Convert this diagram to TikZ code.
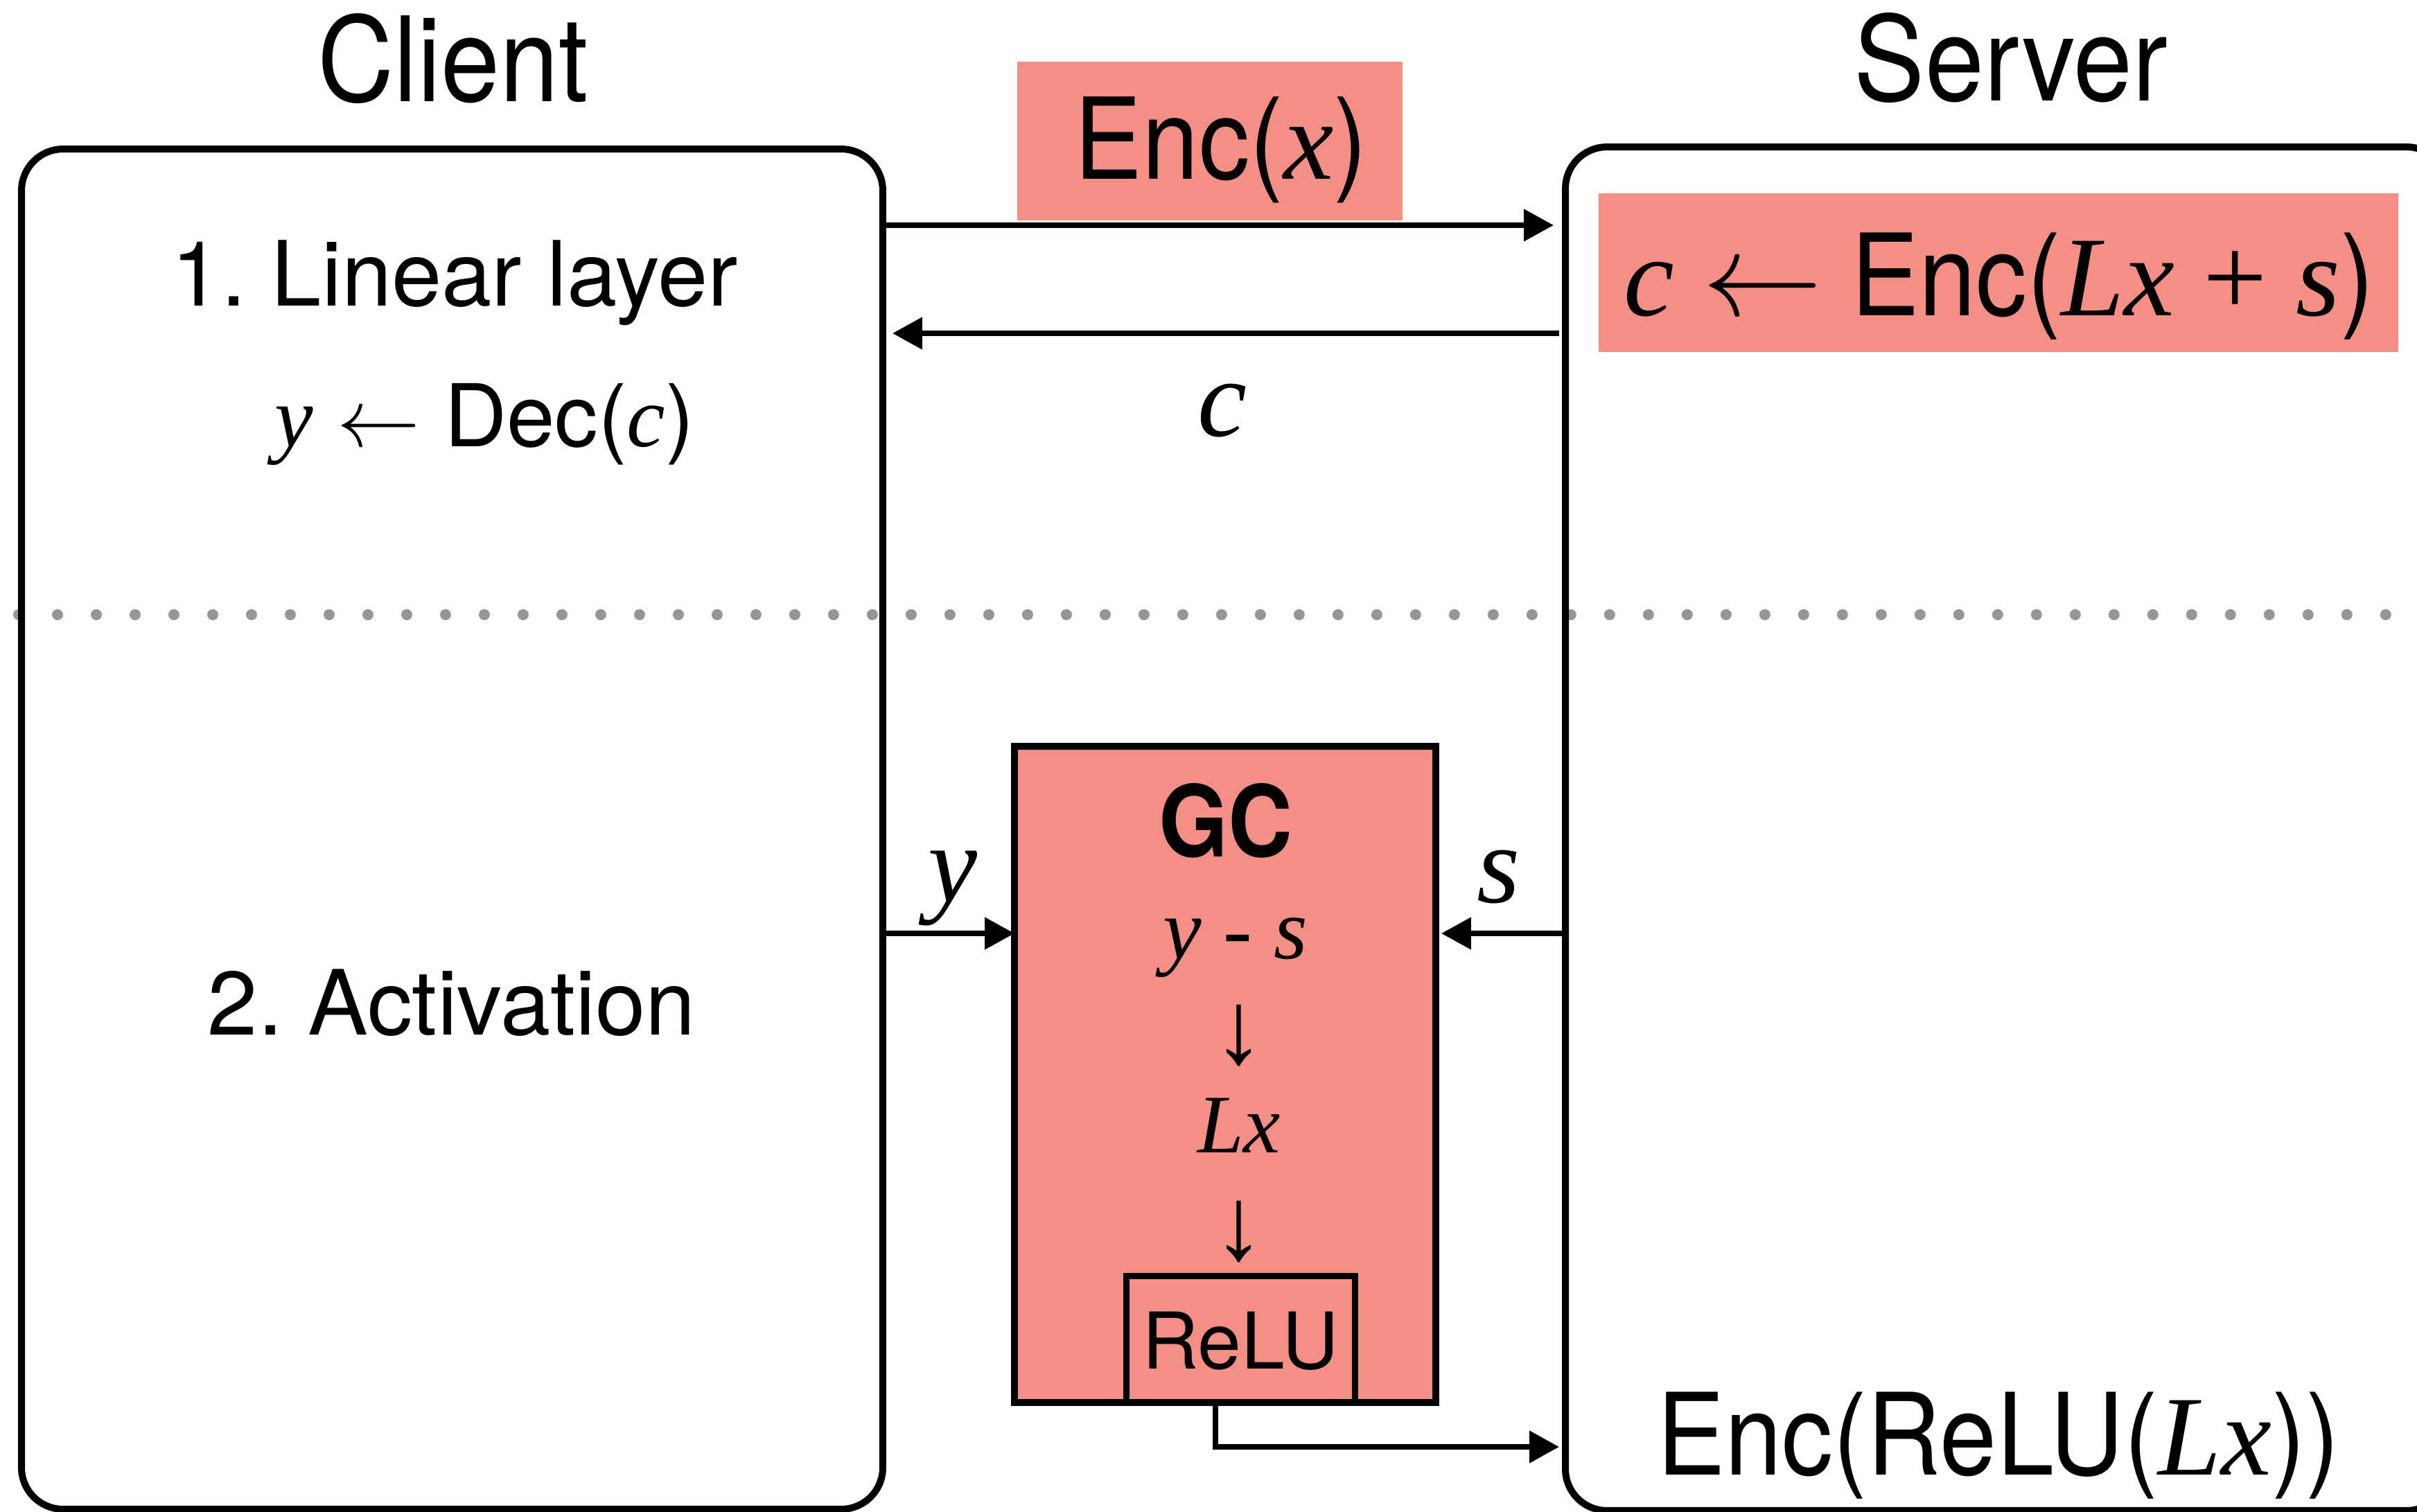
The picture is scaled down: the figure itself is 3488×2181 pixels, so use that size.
\documentclass[tikz,border=0pt]{standalone}
\usepackage{fontspec}
\setmainfont{TeX Gyre Heros}[FakeStretch=0.9]
\newfontfamily\wide{TeX Gyre Heros}
\newfontfamily\tms{Liberation Serif}
\usetikzlibrary{arrows.meta}
\definecolor{salmon}{RGB}{244,143,133}
\definecolor{dotgray}{RGB}{150,150,150}
\newcommand\mi[1]{{\tms\itshape #1}}
\newcommand\fs[1]{\fontsize{#1}{#1}\selectfont}
\newcommand\larr{$\leftarrow$}
\frenchspacing
\tikzset{
  bigbox/.style={draw, line width=1pt, rounded corners=6pt, inner sep=0pt, outer sep=0pt},
  redbox/.style={fill=salmon, inner sep=0pt, outer sep=0pt},
  gcbox/.style={draw, fill=salmon, line width=1pt, inner sep=0pt, outer sep=0pt},
  relubox/.style={draw, line width=0.9pt, inner sep=0pt, outer sep=0pt},
  arr/.style={-{Triangle[length=4.3pt,width=4.5pt]}, line width=0.75pt},
  txt/.style={inner sep=0pt, anchor=base},
  glyph/.style={inner sep=0pt},
  dotline/.style={draw=dotgray, line width=1.6pt, line cap=round, dash pattern=on 0pt off 5.6pt}
}
\begin{document}
\begin{tikzpicture}[x=0.1pt,y=-0.1pt]
\useasboundingbox (0,0) rectangle (3488,2181);
\clip (0,0) rectangle (3488,2181);

% dotted separator
\draw[dotline] (27,887) -- (3488,887);

% main boxes
\node[bigbox, minimum width=124.3pt, minimum height=196.3pt] (client) at (652.5,1196.5) {};
\node[bigbox, minimum width=127.4pt, minimum height=196.8pt] (server) at (2896,1196) {};

% salmon boxes
\node[redbox, minimum width=55.6pt, minimum height=22.9pt] (encbox) at (1746,203.5) {};
\node[redbox, minimum width=115.4pt, minimum height=22.9pt] (cbox) at (2884,393.5) {};
\node[gcbox, minimum width=60.8pt, minimum height=94.7pt] (gc) at (1768,1550.5) {};
\node[relubox, minimum width=33pt, minimum height=18.3pt] (relu) at (1790,1932.5) {};

% texts
\node[txt, font=\fs{17pt}] (clientlbl) at (654,146) {Client};
\node[txt, font=\fs{17pt}] (serverlbl) at (2902,145) {Server};
\node[txt, font=\fs{16.3pt}] (enclbl) at (1762,258) {Enc(\mi{x})};
\node[txt, font=\fs{16.4pt}] (clbl) at (2885,455) {\mi{c} \larr{} Enc(\mi{Lx} {\tms +} \mi{s})};
\node[txt, font=\fs{16pt}] (cmsg) at (1764,629) {\mi{c}};
\node[txt, font=\wide\fs{13pt}] (lin) at (656,441) {1. Linear layer};
\node[txt, font=\wide\fs{12.5pt}] (dec) at (699,644) {\mi{y} \larr{} Dec(\mi{c})};
\node[txt, font=\wide\fs{13pt}] (act) at (652,1493) {2. Activation};
\node[txt, font=\bfseries\fs{14.3pt}] (gclbl) at (1769,1236) {GC};
\node[txt, font=\fs{12.5pt}] (ys) at (1783,1383) {\mi{y - s}};
\node[glyph, font=\fs{15pt}] (d1) at (1788,1495) {\tms ↓};
\node[txt, font=\fs{12pt}] (lx) at (1788,1663) {\mi{Lx}};
\node[glyph, font=\fs{15pt}] (d2) at (1788,1778) {\tms ↓};
\node[txt, font=\wide\fs{11.3pt}] (relulbl) at (1790,1975) {ReLU};
\node[txt, font=\fs{16.4pt}] (encrelu) at (2884,2128) {Enc(ReLU(\mi{Lx}))};
\node[txt, font=\fs{16pt}] (ylbl) at (1375,1301) {\mi{y}};
\node[txt, font=\fs{16pt}] (slbl) at (2163,1302) {\mi{s}};

% connectors
\draw[arr, shorten >=1.7pt] (client.east |- 0,325) -- (server.west |- 0,325);
\draw[arr, shorten <=0.9pt, shorten >=1.4pt] (server.west |- 0,481) -- (client.east |- 0,481);
\draw[arr] (client.east |- 0,1347) -- (gc.west |- 0,1347);
\draw[arr, shorten <=0.4pt, shorten >=0.8pt] (server.west |- 0,1347) -- (gc.east |- 0,1347);
\draw[arr, line width=0.8pt, shorten >=0.9pt] ([xshift=-3.6pt]relu.south) |- (server.west |- 0,2088);
\end{tikzpicture}
\end{document}
